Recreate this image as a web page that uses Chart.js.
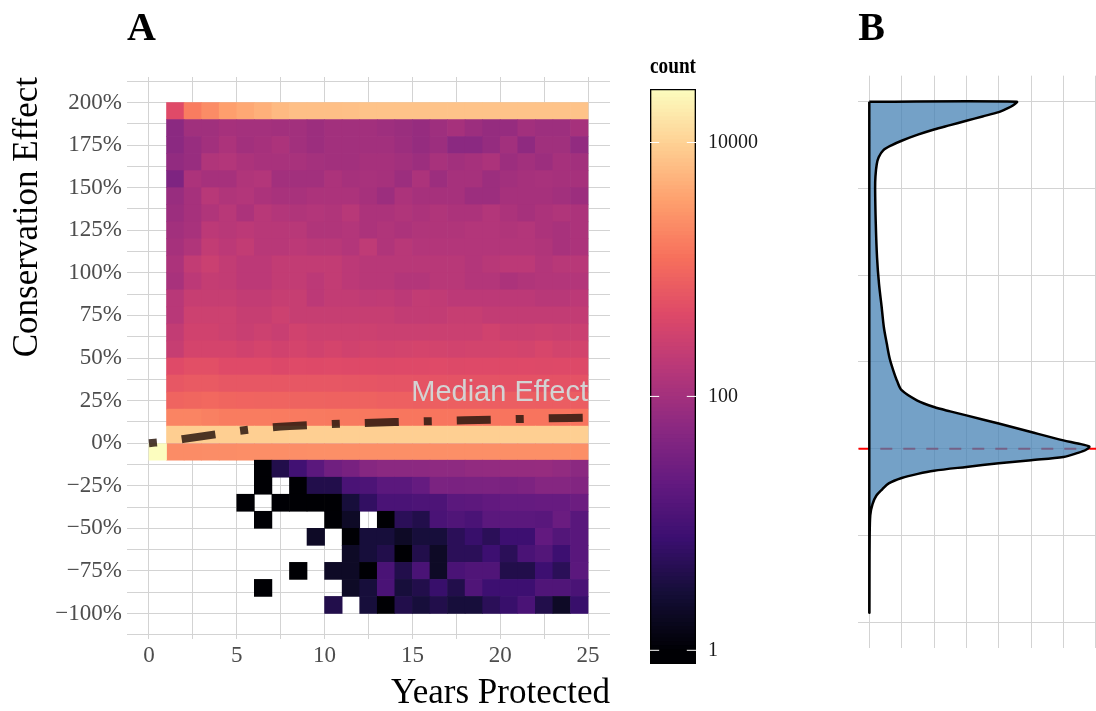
<!DOCTYPE html>
<html>
<head>
<meta charset="utf-8">
<script src="https://cdn.jsdelivr.net/npm/chart.js@4.4.0/dist/chart.umd.min.js"></script>
<style>
html, body { margin: 0; padding: 0; background: #fff; overflow: hidden; width: 1096px; height: 711px; }
canvas { position: absolute; top: 0; }
#heat { left: 0; }
#bar { left: 630px; }
#dens { left: 840px; }
</style>
</head>
<body>
<canvas id="heat" width="630" height="711"></canvas>
<canvas id="bar" width="170" height="711"></canvas>
<canvas id="dens" width="270" height="711"></canvas>
<script>
// columns: years protected (left edge of each 1-year bin)
const years = [1, 2, 3, 4, 5, 6, 7, 8, 9, 10, 11, 12, 13, 14, 15, 16, 17, 18, 19, 20, 21, 22, 23, 24];
// rows: lower edge of each 10% effect bin
const effectBins = [190, 180, 170, 160, 150, 140, 130, 120, 110, 100, 90, 80, 70, 60, 50, 40, 30, 20, 10, 0,
  -10, -20, -30, -40, -50, -60, -70, -80, -90, -100];

const n = null;
// counts per bin, one row per effect bin, one value per year column
const r190 = [460, 1620, 2300, 3470, 4200, 4900, 6100, 6800, 6800, 6800, 7000, 7400, 7400, 7400, 7400, 7400, 7400, 7400, 7400, 7400, 7400, 7400, 7400, 7400];
const r180 = [57, 95, 95, 108, 104, 104, 98, 98, 86, 98, 98, 98, 90, 82, 74, 90, 108, 86, 72, 74, 98, 88, 88, 108];
const r170 = [57, 78, 98, 125, 98, 108, 125, 98, 86, 98, 98, 98, 98, 86, 72, 86, 57, 57, 72, 98, 63, 95, 95, 68];
const r160 = [68, 78, 137, 147, 125, 113, 113, 113, 104, 98, 98, 108, 108, 98, 86, 113, 98, 108, 125, 86, 98, 86, 108, 98];
const r150 = [41, 125, 108, 108, 137, 147, 98, 98, 98, 125, 108, 115, 108, 86, 125, 86, 108, 108, 86, 98, 108, 113, 108, 108];
const r140 = [78, 108, 168, 137, 147, 125, 113, 113, 125, 125, 125, 108, 86, 125, 108, 108, 108, 86, 86, 108, 108, 108, 98, 86];
const r130 = [86, 108, 137, 168, 125, 168, 147, 137, 147, 137, 168, 125, 125, 137, 125, 137, 125, 125, 147, 125, 108, 125, 137, 125];
const r120 = [98, 113, 185, 168, 185, 168, 168, 168, 137, 137, 147, 125, 137, 125, 137, 137, 137, 147, 147, 137, 147, 125, 113, 125];
const r110 = [108, 137, 215, 185, 215, 168, 168, 185, 168, 168, 147, 200, 137, 168, 147, 147, 147, 147, 147, 147, 147, 137, 113, 125];
const r100 = [125, 215, 270, 215, 185, 185, 215, 215, 215, 215, 185, 168, 168, 168, 168, 168, 168, 147, 168, 185, 185, 147, 168, 168];
const r90 = [113, 185, 228, 215, 185, 185, 215, 215, 185, 215, 185, 168, 168, 147, 147, 168, 168, 147, 147, 125, 137, 147, 147, 147];
const r80 = [168, 240, 240, 240, 215, 215, 240, 240, 185, 215, 215, 200, 205, 185, 215, 205, 185, 185, 185, 185, 185, 168, 168, 185];
const r70 = [168, 280, 280, 280, 240, 240, 280, 240, 240, 240, 240, 240, 240, 215, 215, 215, 240, 240, 215, 215, 215, 215, 215, 215];
const r60 = [215, 310, 310, 280, 254, 280, 254, 310, 280, 280, 280, 280, 265, 265, 265, 265, 265, 265, 310, 265, 265, 280, 265, 265];
const r50 = [240, 345, 345, 345, 310, 345, 310, 345, 310, 345, 310, 330, 320, 330, 345, 330, 320, 330, 330, 345, 330, 375, 330, 330];
const r40 = [460, 525, 525, 460, 460, 460, 430, 460, 450, 460, 450, 450, 440, 450, 450, 460, 440, 450, 450, 440, 450, 440, 450, 440];
const r30 = [650, 700, 700, 650, 650, 650, 640, 650, 640, 640, 630, 620, 600, 600, 590, 590, 580, 580, 580, 570, 570, 570, 570, 570];
const r20 = [900, 950, 1000, 930, 920, 900, 900, 880, 880, 870, 860, 860, 820, 820, 800, 800, 790, 790, 780, 770, 770, 760, 760, 760];
const r10 = [1910, 1910, 1750, 1620, 1620, 1600, 1580, 1560, 1540, 1520, 1500, 1480, 1450, 1430, 1420, 1400, 1400, 1380, 1380, 1370, 1370, 1370, 1370, 1370];
const r0 = [9300, 9400, 9500, 9500, 9600, 9600, 9600, 9600, 9600, 9600, 9600, 9600, 9600, 9600, 9600, 9600, 9600, 9600, 9600, 9500, 9500, 9500, 9500, 9500];
const rm10 = [2280, 2300, 2350, 2350, 2400, 2400, 2400, 2400, 2440, 2440, 2440, 2440, 2440, 2440, 2440, 2440, 2440, 2440, 2440, 2440, 2440, 2440, 2440, 2440];
const rm20 = [n, n, n, n, n, 1, 4, 9, 17, 29, 35, 50, 57, 57, 58, 62, 62, 68, 70, 72, 72, 74, 68, 57];
const rm30 = [n, n, n, n, n, 1, n, 1, 4, 4, 11, 12, 17, 17, 22, 38, 37, 38, 39, 37, 40, 49, 49, 46];
const rm40 = [n, n, n, n, 1, n, 1, 1, 1, 1, 3, 6, 11, 11, 12, 12, 17, 18, 20, 22, 22, 23, 23, 26];
const rm50 = [n, n, n, n, n, 1, n, n, n, 1, 2, n, 1, 5, 4, 11, 13, 11, 17, 17, 17, 16, 25, 16];
const rm60 = [n, n, n, n, n, n, n, n, 2, n, 1, 3, 3, 2, 3, 3, 5, 7, 5, 8, 8, 20, 14, 16];
const rm70 = [n, n, n, n, n, n, n, n, n, n, 2, 3, 4, 1, 4, 2, 5, 5, 8, 5, 11, 14, 8, 16];
const rm80 = [n, n, n, n, n, n, n, 1, n, 2, 2, 1, 11, 4, 11, 2, 11, 13, 13, 4, 4, 8, 5, 17];
const rm90 = [n, n, n, n, n, 1, n, n, n, n, 2, 3, 11, 3, 4, 7, 4, 13, 8, 8, 8, 13, 13, 11];
const rm100 = [n, n, n, n, n, n, n, n, n, 4, n, 3, 1, 4, 3, 4, 3, 3, 5, 7, 11, 4, 2, 7];
const effectRows = [r190, r180, r170, r160, r150, r140, r130, r120, r110, r100, r90, r80, r70, r60, r50, r40,
  r30, r20, r10, r0, rm10, rm20, rm30, rm40, rm50, rm60, rm70, rm80, rm90, rm100];

// the single cell at year 0
const zeroYear = 0;
const zeroBin = -10;
const zeroCount = 26400;

// median effect line
const medianYears = [0, 1, 2, 3, 4, 5, 6, 7, 8, 10, 12, 14, 16, 18, 20, 22, 25];
const medianEffect = [0, 1, 2.5, 4, 5.5, 7, 8.3, 9.3, 10, 11, 11.8, 12.4, 12.9, 13.4, 13.9, 14.4, 15];
const medianLabel = 'Median Effect';
const medianLabelX = 25;
const medianLabelY = 25;

// axis ticks
const xTickValues = [0, 5, 10, 15, 20, 25];
const xMinorValues = [2.5, 7.5, 12.5, 17.5, 22.5];
const yTickValues = [200, 175, 150, 125, 100, 75, 50, 25, 0, -25, -50, -75, -100];
const yTickLabels = ['200%', '175%', '150%', '125%', '100%', '75%', '50%', '25%', '0%', '\u221225%', '\u221250%', '\u221275%', '\u2212100%'];
const yMinorValues = [212.5, 187.5, 162.5, 137.5, 112.5, 87.5, 62.5, 37.5, 12.5, -12.5, -37.5, -62.5, -87.5, -112.5];

// colour legend
const countMin = 0.78;
const countMax = 26400;
const legendTicks = [1, 100, 10000];
const legendLabels = ['1', '100', '10000'];

// panel B: density of conservation effect
const densEffect = [200, 200, 198, 196, 194, 191.5, 189, 186.5, 184, 181, 177.5, 175, 172, 168, 164, 157, 150, 130, 110, 95,
  82, 70, 60.6, 52, 45.2, 39, 33.7, 27.9, 24, 21.5, 19.2, 14.5, 9.6, 4.8, 3, 1.2, -0.6, -2.4,
  -4.8, -6.6, -8.4, -10.5, -12.7, -14.5, -16.9, -20, -23.4, -27, -31.9, -38.3, -53, -70, -94.5, -94.5, 200];
const densValue = [0, 4.56, 4.45, 4.25, 4.0, 3.5, 3.0, 2.5, 2.0, 1.5, 1.0, 0.7, 0.43, 0.29, 0.23, 0.19, 0.18, 0.2, 0.24, 0.3,
  0.38, 0.45, 0.54, 0.63, 0.74, 0.86, 1.0, 1.47, 2.0, 2.5, 3.0, 4.0, 5.0, 6.0, 6.45, 6.8, 6.7, 6.45,
  6.0, 5.0, 4.0, 3.0, 2.0, 1.5, 1.0, 0.6, 0.4, 0.22, 0.1, 0.03, 0.01, 0.006, 0.004, 0, 0];
const densGrid = [0, 1, 2, 3, 4, 5, 6, 7];
const densGridY = [200, 150, 100, 50, 0, -50, -100];
const refEffect = 0;

const magma = ['#000004', '#140e36', '#3b0f70', '#641a80', '#8c2981', '#b73779', '#de4968', '#f7705c', '#fe9f6d', '#fecf92', '#fcfdbf'];
function hexRgb(h) { return [1, 3, 5].map(i => parseInt(h.slice(i, i + 2), 16)); }
function magmaColor(t) {
  t = Math.max(0, Math.min(1, t));
  const s = t * (magma.length - 1);
  const i = Math.min(Math.floor(s), magma.length - 2);
  const f = s - i;
  const a = hexRgb(magma[i]), b = hexRgb(magma[i + 1]);
  return 'rgb(' + a.map((v, k) => Math.round(v + (b[k] - v) * f)).join(',') + ')';
}
function countColor(c) { return magmaColor(Math.log10(c) / Math.log10(countMax)); }

Chart.defaults.font.family = '"Liberation Serif", serif';
Chart.defaults.animation = false;

const gridColor = '#d3d3d3';
const titleFont = { family: '"Liberation Serif", serif', size: 40, weight: 'bold', lineHeight: 1.2 };

// heatmap cells
const heatCells = [];
const heatColors = [];
effectRows.forEach((row, r) => {
  row.forEach((c, i) => {
    if (c == null) return;
    heatCells.push({ x: years[i] + 0.5, y: [effectBins[r], effectBins[r] + 10] });
    heatColors.push(countColor(c));
  });
});
heatCells.push({ x: zeroYear + 0.5, y: [zeroBin, zeroBin + 10] });
heatColors.push(countColor(zeroCount));

const medianText = {
  id: 'medianText',
  afterDatasetsDraw(chart) {
    const { ctx, scales: { x, y } } = chart;
    ctx.save();
    ctx.font = '29px "Liberation Sans", Arial, sans-serif';
    ctx.fillStyle = '#d3d3d3';
    ctx.textAlign = 'right';
    ctx.textBaseline = 'alphabetic';
    ctx.fillText(medianLabel, x.getPixelForValue(medianLabelX), y.getPixelForValue(medianLabelY));
    ctx.restore();
  }
};

new Chart(document.getElementById('heat'), {
  type: 'bar',
  data: {
    datasets: [{
      type: 'line',
      label: 'median',
      data: medianYears.map((x, i) => ({ x: x, y: medianEffect[i] })),
      borderColor: 'rgba(45,25,15,0.85)',
      borderWidth: 8,
      borderDash: [8, 25, 34, 25],
      borderCapStyle: 'butt',
      cubicInterpolationMode: 'monotone',
      pointRadius: 0,
      order: 0
    }, {
      label: 'count',
      data: heatCells,
      backgroundColor: heatColors,
      borderWidth: 0,
      barPercentage: 1,
      categoryPercentage: 1,
      order: 1
    }]
  },
  options: {
    responsive: false,
    devicePixelRatio: 1,
    events: [],
    layout: { padding: { left: 0, right: 20, top: 0, bottom: 0 } },
    plugins: {
      legend: { display: false },
      tooltip: { enabled: false },
      title: {
        display: true, text: 'A', align: 'start', fullSize: false, color: '#000',
        font: titleFont, padding: { top: 5.5, bottom: 23.5 }
      }
    },
    scales: {
      x: {
        type: 'linear', min: -1.25, max: 26.25, offset: false,
        afterBuildTicks: s => { s.ticks = xTickValues.concat(xMinorValues).sort((a, b) => a - b).map(v => ({ value: v })); },
        afterFit: s => { s.height = 72; },
        ticks: {
          autoSkip: false, maxRotation: 0, padding: 3, color: '#4d4d4d',
          font: { size: 23 },
          callback: v => xTickValues.includes(v) ? String(v) : ''
        },
        grid: { color: gridColor, lineWidth: 1, drawTicks: false, offset: false },
        border: { display: false },
        title: {
          display: true, text: 'Years Protected', align: 'end', color: '#000',
          font: { size: 35, lineHeight: 1 }, padding: { top: 0, bottom: 0 }
        }
      },
      y: {
        type: 'linear', min: -115, max: 215,
        afterBuildTicks: s => { s.ticks = yTickValues.concat(yMinorValues).sort((a, b) => a - b).map(v => ({ value: v })); },
        afterFit: s => { s.width = 127; },
        ticks: {
          autoSkip: false, padding: 5, color: '#4d4d4d',
          font: { size: 23 },
          callback: v => { const i = yTickValues.indexOf(v); return i >= 0 ? yTickLabels[i] : ''; }
        },
        grid: { color: gridColor, lineWidth: 1, drawTicks: false },
        border: { display: false },
        title: {
          display: true, text: 'Conservation Effect', align: 'end', color: '#000',
          font: { size: 35, lineHeight: 1 }, padding: { top: 10.7, bottom: 0 }
        }
      }
    }
  },
  plugins: [medianText]
});

// colour bar legend
const barBins = 150;
const lmin = Math.log10(countMin), lmax = Math.log10(countMax);
const legendBins = [];
const legendColors = [];
for (let k = 0; k < barBins; k++) {
  const a = lmin + (lmax - lmin) * k / barBins;
  const b = lmin + (lmax - lmin) * (k + 1) / barBins;
  legendBins.push({ x: 0.5, y: [Math.pow(10, a), Math.pow(10, b) * 1.002] });
  legendColors.push(magmaColor(((a + b) / 2) / lmax));
}
const tickMarks = [];
legendTicks.forEach(v => {
  tickMarks.push({ x: 0, y: v }, { x: 0.2, y: v }, { x: 0.2, y: null }, { x: 0.8, y: v }, { x: 1, y: v }, { x: 1, y: null });
});

new Chart(document.getElementById('bar'), {
  type: 'bar',
  data: {
    datasets: [{
      type: 'line',
      data: tickMarks,
      borderColor: '#ffffff',
      borderWidth: 1,
      pointRadius: 0,
      spanGaps: false,
      order: 0
    }, {
      data: [{ x: 0.5, y: [countMin, countMax] }],
      backgroundColor: 'rgba(0,0,0,0)',
      borderColor: '#000',
      borderWidth: 1,
      borderSkipped: false,
      barPercentage: 1,
      categoryPercentage: 1,
      grouped: false,
      order: 1
    }, {
      data: legendBins,
      backgroundColor: legendColors,
      borderWidth: 0,
      barPercentage: 1,
      categoryPercentage: 1,
      grouped: false,
      order: 2
    }]
  },
  options: {
    responsive: false,
    devicePixelRatio: 1,
    events: [],
    layout: { padding: { left: 20, right: 0, top: 0, bottom: 47 } },
    plugins: {
      legend: { display: false },
      tooltip: { enabled: false },
      title: {
        display: true, text: 'count', align: 'start', fullSize: false, color: '#000',
        font: { size: 23, lineHeight: 1.2 }, padding: { top: 53.4, bottom: 8 }
      }
    },
    scales: {
      x: {
        type: 'linear', min: 0, max: 1, offset: false, display: false,
        afterBuildTicks: s => { s.ticks = [{ value: 0 }, { value: 1 }]; },
        afterFit: s => { s.height = 0; }
      },
      y: {
        type: 'logarithmic', position: 'right', min: countMin, max: countMax,
        afterBuildTicks: s => { s.ticks = legendTicks.map(v => ({ value: v })); },
        afterFit: s => { s.width = 104; },
        ticks: {
          autoSkip: false, padding: 12, color: '#1a1a1a', font: { size: 20 },
          callback: (v, i) => legendLabels[i]
        },
        grid: { display: false, drawTicks: false },
        border: { display: false }
      }
    }
  }
});

// panel B: density
const densData = densValue.map((v, i) => ({ x: v, y: densEffect[i] }));
const densMin = -0.34, densMax = 7.14;
const densPeak = Math.max.apply(null, densValue);
const refLine = [{ x: densMin, y: refEffect }, { x: 0, y: refEffect }, { x: densPeak, y: refEffect }, { x: densMax, y: refEffect }];

new Chart(document.getElementById('dens'), {
  type: 'scatter',
  data: {
    datasets: [{
      data: densData,
      showLine: true,
      borderColor: '#000',
      borderWidth: 2.5,
      backgroundColor: 'rgba(70,130,180,0.75)',
      fill: 'shape',
      tension: 0.3,
      pointRadius: 0,
      order: 1
    }, {
      data: refLine,
      showLine: true,
      borderColor: '#ff0000',
      borderWidth: 2,
      pointRadius: 0,
      segment: {
        borderDash: ctx => ctx.p0DataIndex === 1 ? [12, 11] : undefined,
        borderDashOffset: ctx => ctx.p0DataIndex === 1 ? 12 : undefined
      },
      order: 2
    }]
  },
  options: {
    responsive: false,
    devicePixelRatio: 1,
    events: [],
    layout: { padding: { left: 18.3, right: 9.7, top: 0, bottom: 62.8 } },
    plugins: {
      legend: { display: false },
      tooltip: { enabled: false },
      title: {
        display: true, text: 'B', align: 'start', fullSize: false, color: '#000',
        font: titleFont, padding: { top: 5.5, bottom: 22.2 }
      }
    },
    scales: {
      x: {
        type: 'linear', min: densMin, max: densMax,
        afterBuildTicks: s => { s.ticks = densGrid.map(v => ({ value: v })); },
        afterFit: s => { s.height = 0; },
        ticks: { display: false },
        grid: { color: gridColor, lineWidth: 1, drawTicks: false },
        border: { display: false }
      },
      y: {
        type: 'linear', min: -115, max: 215,
        afterBuildTicks: s => { s.ticks = densGridY.map(v => ({ value: v })); },
        afterFit: s => { s.width = 0; },
        ticks: { display: false },
        grid: { color: gridColor, lineWidth: 1, drawTicks: false },
        border: { display: false }
      }
    }
  }
});
</script>
</body>
</html>
